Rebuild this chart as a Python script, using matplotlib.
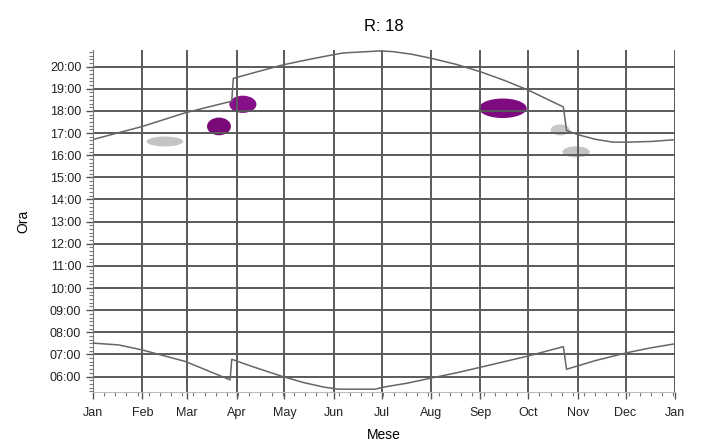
import matplotlib.pyplot as plt
from matplotlib.patches import Ellipse
from matplotlib.ticker import MultipleLocator

plt.rcParams['font.family'] = ['Liberation Sans', 'DejaVu Sans']

# month starts (day of year) and labels
month_days = [0, 31, 59, 90, 120, 151, 181, 212, 243, 273, 304, 334, 365]
month_labels = ["Jan", "Feb", "Mar", "Apr", "May", "Jun", "Jul",
                "Aug", "Sep", "Oct", "Nov", "Dec", "Jan"]
hours = list(range(6, 21))

# sunset curve (day, hour)
sunset_day = [0, 31, 58, 87, 88, 100, 119, 135, 150, 157, 180, 188, 200, 212, 228, 243,
              258, 273, 295, 297, 304, 315, 326, 335, 350, 365]
sunset_hour = [16.71, 17.30, 17.92, 18.44, 19.47, 19.71, 20.08, 20.32, 20.53, 20.62,
               20.71, 20.68, 20.56, 20.38, 20.10, 19.77, 19.38, 18.94, 18.18, 17.12,
               16.93, 16.72, 16.59, 16.59, 16.62, 16.70]

# sunrise curve
sunrise_day = [0, 16, 31, 58, 86, 87, 100, 119, 132, 145, 154, 177, 182, 197, 212,
               228, 243, 273, 295, 297, 315, 335, 350, 365]
sunrise_hour = [7.51, 7.43, 7.20, 6.68, 5.85, 6.78, 6.45, 6.00, 5.73, 5.52, 5.43, 5.43,
                5.52, 5.70, 5.93, 6.17, 6.42, 6.93, 7.35, 6.33, 6.72, 7.08, 7.30, 7.48]

# observation blobs: center day, center hour, width (days), height (hours), colour
blob_day = [45, 79, 94, 257, 293, 303]
blob_hour = [16.62, 17.30, 18.30, 18.12, 17.14, 16.15]
blob_w = [23, 15, 17, 30, 12, 17]
blob_h = [0.45, 0.8, 0.78, 0.88, 0.5, 0.5]
blob_color = ["#c4c4c4", "#7a0a78", "#86108a", "#7e0a80", "#c8c8c8", "#c4c4c4"]

fig = plt.figure(figsize=(7.02, 4.43), dpi=100)
ax = fig.add_axes([0.1325, 0.115, 0.829, 0.772])

for d, h, w, hh, c in zip(blob_day, blob_hour, blob_w, blob_h, blob_color):
    ax.add_patch(Ellipse((d, h), w, hh, facecolor=c, edgecolor="none", zorder=1))

for d in month_days:
    ax.axvline(d, color="#5a5a5a", lw=1.4, zorder=2)
for h in hours:
    ax.axhline(h, color="#5a5a5a", lw=1.4, zorder=2)

ax.plot(sunset_day, sunset_hour, color="#666666", lw=1.1, zorder=3)
ax.plot(sunrise_day, sunrise_hour, color="#666666", lw=1.1, zorder=3)

ax.set_xlim(0, 365)
ax.set_ylim(5.3, 20.75)
ax.set_xticks(month_days)
ax.set_xticklabels(month_labels, fontsize=9)
ax.xaxis.set_minor_locator(MultipleLocator(7))
ax.set_yticks(hours)
ax.set_yticklabels(["{:02d}:00".format(h) for h in hours], fontsize=9)
ax.yaxis.set_minor_locator(MultipleLocator(1 / 6))
ax.tick_params(axis="both", colors="#555555", labelcolor="#222222", length=5, width=1)
ax.tick_params(axis="x", pad=6)
ax.tick_params(axis="both", which="minor", colors="#777777", length=3, width=0.8)

for s in ["top", "right"]:
    ax.spines[s].set_visible(False)
ax.spines["left"].set_color("#777777")
ax.spines["bottom"].set_color("#bbbbbb")

ax.set_xlabel("Mese", fontsize=10, labelpad=6)
ax.set_ylabel("Ora", fontsize=10, labelpad=14)
ax.set_title("R: 18", fontsize=12, pad=14)

fig.savefig("out.png", dpi=100)
